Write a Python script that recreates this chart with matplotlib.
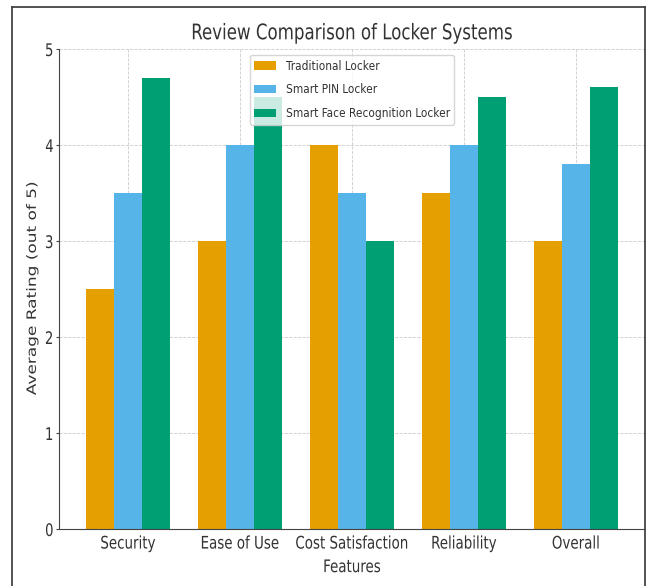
import matplotlib
matplotlib.use('Agg')
import matplotlib.pyplot as plt
import numpy as np
from matplotlib.lines import Line2D
from matplotlib.patheffects import AbstractPathEffect
from matplotlib.transforms import Affine2D

features = ['Security', 'Ease of Use', 'Cost Satisfaction', 'Reliability', 'Overall']
traditional = [2.5, 3.0, 4.0, 3.5, 3.0]
smart_pin = [3.5, 4.0, 3.5, 4.0, 3.8]
smart_face = [4.7, 4.5, 3.0, 4.5, 4.6]
series_names = ['Traditional Locker', 'Smart PIN Locker', 'Smart Face Recognition Locker']
colors = ['#E69F00', '#56B4E9', '#009E73']
yticks = [0, 1, 2, 3, 4, 5]

TEXT = '#333333'
SQ = 0.76    # the source screenshot is squeezed sideways
SQ_C = 0.86  # same squeeze on top of DejaVu Sans Condensed


class Squash(AbstractPathEffect):
    """Narrow a text path along its own x (or y, for rotated text), keeping an anchor fixed."""

    def __init__(self, s=SQ, anchor=0.5, axis='x'):
        super().__init__()
        self.s = s
        self.anchor = anchor
        self.axis = axis

    def draw_path(self, renderer, gc, tpath, affine, rgbFace=None):
        ext = tpath.get_extents()
        if self.axis == 'x':
            c = ext.x0 + self.anchor * ext.width
            sq = Affine2D().translate(-c, 0).scale(self.s, 1).translate(c, 0)
        else:
            c = ext.y0 + self.anchor * ext.height
            sq = Affine2D().translate(0, -c).scale(1, self.s).translate(0, c)
        renderer.draw_path(gc, tpath, sq + affine, rgbFace)


fig = plt.figure(figsize=(6.46, 5.86), dpi=100)
ax = fig.add_axes([59.4 / 646, 57 / 586, 585.2 / 646, 480 / 586])

x = np.arange(len(features))
w = 0.25
for i, (vals, name) in enumerate(zip([traditional, smart_pin, smart_face], series_names)):
    ax.bar(x + (i - 1) * w, vals, w, label=name, color=colors[i])

ax.set_ylim(0, 5)
ax.set_yticks(yticks)
ax.set_axisbelow(True)
ax.grid(True, linestyle='--', linewidth=0.6, color='#cccccc')
for s in ['top', 'right']:
    ax.spines[s].set_visible(False)
ax.spines['left'].set_color('#444444')
ax.spines['bottom'].set_color('#444444')

ax.set_xticks(x)
ax.set_xticklabels(features)
ax.tick_params(axis='x', direction='in', length=4, pad=4, colors='#444444',
               labelcolor=TEXT, labelsize=12.5)
ax.tick_params(axis='y', length=2.5, pad=1.6, colors='#444444',
               labelcolor=TEXT, labelsize=12.5)
for lbl in ax.get_xticklabels():
    lbl.set_fontstretch('condensed')
    lbl.set_path_effects([Squash(s=SQ_C, anchor=0.5)])
for lbl in ax.get_yticklabels():
    lbl.set_path_effects([Squash(anchor=1.0)])

xl = ax.set_xlabel('Features', fontsize=12.5, color=TEXT, fontstretch='condensed')
xl.set_path_effects([Squash(s=SQ_C, anchor=0.5)])
yl = ax.set_ylabel('Average Rating (out of 5)', fontsize=12.2, color=TEXT)
yl.set_path_effects([Squash(anchor=0.0, axis='y')])
ax.yaxis.set_label_coords((39 - 59.4) / 585.2, 0.5)
tt = ax.set_title('Review Comparison of Locker Systems', fontsize=15.5, color=TEXT, pad=7,
                  fontstretch='condensed')
tt.set_path_effects([Squash(s=SQ_C, anchor=0.5)])

leg = ax.legend(loc='upper center', prop={'size': 8.5, 'stretch': 'condensed'},
                handlelength=1.8, handletextpad=0.85, labelspacing=0.9,
                framealpha=0.8, edgecolor='#cccccc')
for t in leg.get_texts():
    t.set_color(TEXT)

# screenshot frame
fx0, fx1, fy = 12 / 646, 645 / 646, 1 - 7 / 586
for xs, ys in [([fx0, fx0], [0, fy]), ([fx0, fx1], [fy, fy]), ([fx1, fx1], [0, fy])]:
    fig.add_artist(Line2D(xs, ys, transform=fig.transFigure, color='#444444', linewidth=1.3))

fig.savefig('out.png', dpi=100)
